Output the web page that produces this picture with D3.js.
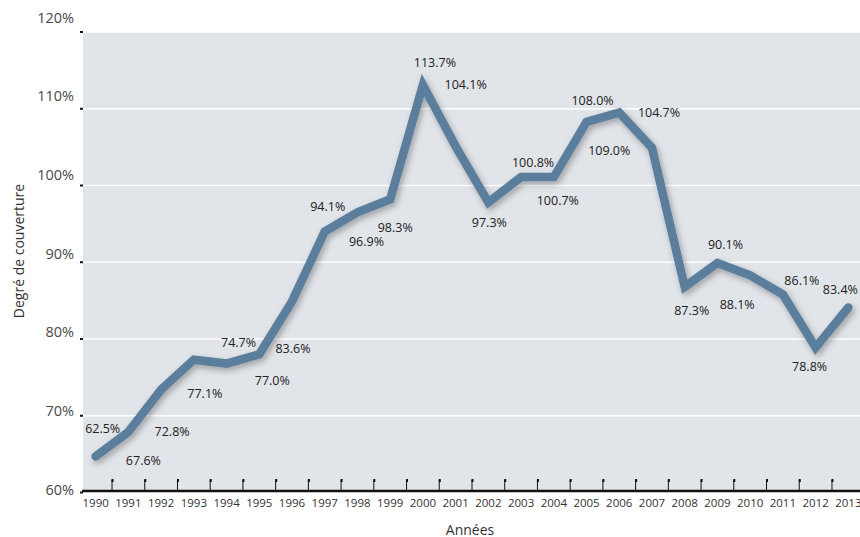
<!DOCTYPE html>
<html>
<head>
<meta charset="utf-8">
<script src="https://cdn.jsdelivr.net/npm/d3@7"></script>
<style>
  html, body { margin: 0; padding: 0; background: #fff; }
  svg { display: block; font-family: "Open Sans", "Noto Sans", sans-serif; }
</style>
</head>
<body>
<svg id="chart" width="860" height="537"></svg>
<script>
// ---- data ----
const years = ["1990","1991","1992","1993","1994","1995","1996","1997","1998","1999","2000","2001","2002","2003","2004","2005","2006","2007","2008","2009","2010","2011","2012","2013"];
const values = [64.7, 67.9, 73.4, 77.3, 76.8, 78.0, 84.9, 94.0, 96.5, 98.2, 113.1, 105.1, 97.8, 101.1, 101.1, 108.3, 109.5, 104.9, 86.8, 89.9, 88.3, 85.8, 78.9, 84.1];
const labels = ["62.5%","67.6%","72.8%","77.1%","74.7%","77.0%","83.6%","94.1%","96.9%","98.3%","113.7%","104.1%","97.3%","100.8%","100.7%","108.0%","109.0%","104.7%","87.3%","90.1%","88.1%","86.1%","78.8%","83.4%"];
const yTicks = [60, 70, 80, 90, 100, 110, 120];
const xTitle = "Années";
const yTitle = "Degré de couverture";

// ---- layout (label offsets relative to each point) ----
const labelOffsets = [[7,-28],[15,29],[11,42],[11,34],[12,-21],[13,26],[1,47],[3,-25],[9,29],[5,28],[12,-22],[10,-62],[1,20],[12,-15],[4,23],[6,-21],[-10,38],[7,-35],[7,24],[8,-19],[-13,29],[19,-14],[-6,19],[-8,-18]];

const svg = d3.select("#chart");
const plot = { left: 83, right: 860, top: 32, bottom: 492 };

const x = d3.scaleBand().domain(years).range([79.3, 864.7]).padding(0);
const y = d3.scaleLinear().domain([60, 120]).range([492.5, 32]);
const yLab = d3.scaleLinear().domain([60, 120]).range([489, 17]);

// shadow filter
const defs = svg.append("defs");
const f = defs.append("filter").attr("id", "shadow").attr("x", "-10%").attr("y", "-10%").attr("width", "120%").attr("height", "130%");
f.append("feDropShadow").attr("dx", 2).attr("dy", 3).attr("stdDeviation", 3).attr("flood-color", "#000").attr("flood-opacity", 0.3);

// plot background
svg.append("rect")
  .attr("x", plot.left).attr("y", plot.top)
  .attr("width", plot.right - plot.left).attr("height", plot.bottom - plot.top)
  .attr("fill", "#e1e4e8");

// grid lines
svg.append("g").selectAll("line")
  .data(yTicks.filter(d => d > 60))
  .join("line")
  .attr("x1", plot.left).attr("x2", plot.right)
  .attr("y1", d => y(d)).attr("y2", d => y(d))
  .attr("stroke", "#fff").attr("stroke-width", 1.6);

// y tick marks
svg.append("g").selectAll("rect")
  .data(yTicks)
  .join("rect")
  .attr("x", 80).attr("y", d => y(d) - 1)
  .attr("width", 3).attr("height", 2)
  .attr("fill", "#111");

// y tick labels
svg.append("g").selectAll("text")
  .data(yTicks)
  .join("text")
  .attr("x", 74).attr("y", d => yLab(d))
  .attr("text-anchor", "end").attr("dominant-baseline", "central")
  .attr("font-size", 14.5).attr("fill", "#4a4a4a")
  .text(d => d + "%");

// x axis line
svg.append("line")
  .attr("x1", 82).attr("x2", plot.right)
  .attr("y1", 491).attr("y2", 491)
  .attr("stroke", "#111").attr("stroke-width", 2.4);

// x tick marks at band boundaries
const bounds = years.slice(1);
const tg = svg.append("g");
tg.selectAll("line")
  .data(bounds)
  .join("line")
  .attr("x1", d => x(d)).attr("x2", d => x(d))
  .attr("y1", 480).attr("y2", 491)
  .attr("stroke", "#111").attr("stroke-width", 1);
tg.selectAll("rect")
  .data(bounds)
  .join("rect")
  .attr("x", d => x(d) - 0.5).attr("y", 479)
  .attr("width", 2).attr("height", 3)
  .attr("fill", "#111");

// x tick labels
svg.append("g").selectAll("text")
  .data(years)
  .join("text")
  .attr("x", d => x(d) + x.bandwidth() / 2).attr("y", 502)
  .attr("text-anchor", "middle").attr("dominant-baseline", "central")
  .attr("font-size", 11.5).attr("fill", "#333")
  .text(d => d);

// axis titles
svg.append("text")
  .attr("x", 470).attr("y", 529)
  .attr("text-anchor", "middle").attr("dominant-baseline", "central")
  .attr("font-size", 14).attr("fill", "#333")
  .text(xTitle);
svg.append("text")
  .attr("transform", "translate(18,251) rotate(-90)")
  .attr("text-anchor", "middle").attr("dominant-baseline", "central")
  .attr("font-size", 14).attr("fill", "#333")
  .text(yTitle);

// line
const pts = years.map((yr, i) => ({ yr, v: values[i], lab: labels[i], off: labelOffsets[i] }));
const line = d3.line().x(d => x(d.yr) + x.bandwidth() / 2).y(d => y(d.v));
svg.append("path")
  .datum(pts)
  .attr("d", line)
  .attr("fill", "none")
  .attr("stroke", "#5a7e9c")
  .attr("stroke-width", 8.5)
  .attr("stroke-linejoin", "miter")
  .attr("stroke-miterlimit", 4)
  .attr("stroke-linecap", "round")
  .attr("filter", "url(#shadow)");

// data labels
svg.append("g").selectAll("text")
  .data(pts)
  .join("text")
  .attr("x", d => x(d.yr) + x.bandwidth() / 2 + d.off[0])
  .attr("y", d => y(d.v) + d.off[1])
  .attr("text-anchor", "middle").attr("dominant-baseline", "central")
  .attr("font-size", 12.5).attr("fill", "#222")
  .text(d => d.lab);
</script>
</body>
</html>
